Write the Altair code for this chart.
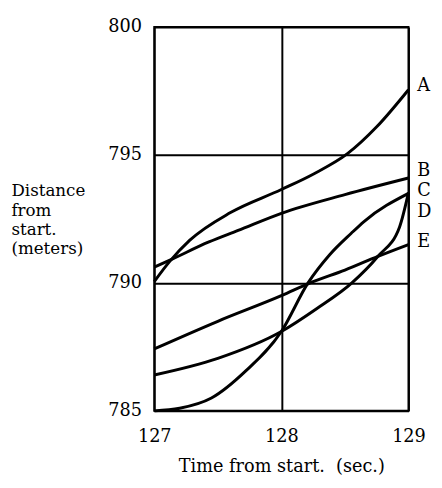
import altair as alt
import pandas as pd

# Curve readings (time in s, distance in m)
t_A = [127.0, 127.12, 127.28, 127.6, 128.0, 128.25, 128.52, 128.75, 129.0]
v_A = [790.05, 790.83, 791.67, 792.75, 793.65, 794.25, 795.05, 796.1, 797.55]

t_B = [127.0, 127.11, 127.43, 127.66, 128.0, 128.5, 129.0]
v_B = [790.62, 790.86, 791.6, 792.05, 792.72, 793.45, 794.1]

t_C = [127.0, 127.2, 127.45, 127.72, 128.0, 128.21, 128.38, 128.55, 128.65, 129.0]
v_C = [785.0, 785.1, 785.5, 786.56, 788.1, 790.0, 791.1, 791.94, 792.4, 793.5]

t_D = [127.0, 127.5, 128.0, 128.28, 128.555, 128.76, 128.93, 129.0]
v_D = [786.4, 787.05, 788.1, 789.0, 790.0, 791.04, 792.19, 793.53]

t_E = [127.0, 127.5, 128.0, 128.24, 128.5, 128.76, 129.0]
v_E = [787.42, 788.5, 789.5, 790.03, 790.5, 791.04, 791.5]

label_names = ["A", "B", "C", "D", "E"]
label_y = [797.7, 794.37, 793.6, 792.75, 791.6]
label_x = [129, 129, 129, 129, 129]

x_ticks = [127, 128, 129]
y_ticks = [785, 790, 795, 800]

rows = []
for name, ts, vs in [("A", t_A, v_A), ("B", t_B, v_B), ("C", t_C, v_C),
                     ("D", t_D, v_D), ("E", t_E, v_E)]:
    for t, v in zip(ts, vs):
        rows.append({"curve": name, "t": t, "v": v})
df = pd.DataFrame(rows)
lab = pd.DataFrame({"name": label_names, "t": label_x, "v": label_y})

FONT = "DejaVu Serif"
FS = 18
x_scale = alt.Scale(domain=[127, 129], nice=False, zero=False)
y_scale = alt.Scale(domain=[785, 800], nice=False, zero=False)

x_axis = alt.Axis(
    values=x_ticks, tickCount=10, tickMinStep=0.1,
    labelExpr="format(datum.value, 'd')",
    title="Time from start.\u00a0 (sec.)", grid=True,
    gridColor="black", gridWidth=2, gridOpacity=1, domain=False,
    ticks=False, tickSize=0, labelPadding=17, labelFont=FONT,
    labelFontSize=FS, labelColor="black", labelFlush=False,
    labelOverlap=False, titleFont=FONT,
    titleFontSize=FS, titleFontWeight="normal", titleColor="black",
    titleBaseline="top", titleY=48)
y_axis = alt.Axis(
    values=y_ticks, tickCount=10, title=["Distance", "from", "start.", "(meters)"],
    labelExpr="format(datum.value, 'd')",
    grid=True, gridColor="black", gridWidth=2, gridOpacity=1,
    domain=False, ticks=False, tickSize=0, labelPadding=13,
    labelFont=FONT, labelFontSize=FS, labelColor="black",
    labelOverlap=False, labelFlush=False,
    titleFont=FONT, titleFontSize=FS - 1, titleFontWeight="normal",
    titleColor="black", titleAngle=0, titleAlign="left",
    titleBaseline="top", titleX=-146, titleY=159, titleLineHeight=19.5)

lines = alt.Chart(df).mark_line(
    color="black", strokeWidth=3, interpolate="monotone"
).encode(
    x=alt.X("t:Q", scale=x_scale, axis=x_axis),
    y=alt.Y("v:Q", scale=y_scale, axis=y_axis),
    detail="curve:N",
)

labels = alt.Chart(lab).mark_text(
    align="left", baseline="middle", dx=9, font=FONT, fontSize=FS,
    color="black"
).encode(
    x=alt.X("t:Q", scale=x_scale, axis=x_axis),
    y=alt.Y("v:Q", scale=y_scale, axis=y_axis),
    text="name:N",
)

chart = alt.layer(lines, labels).properties(
    width=259, height=391, background="white",
    autosize=alt.AutoSizeParams(type="none"),
    padding={"left": 149, "top": 15, "right": 26, "bottom": 64},
).configure_view(stroke="black", strokeWidth=2)

chart.save("out.html", embed_options={"renderer": "svg", "actions": False})
